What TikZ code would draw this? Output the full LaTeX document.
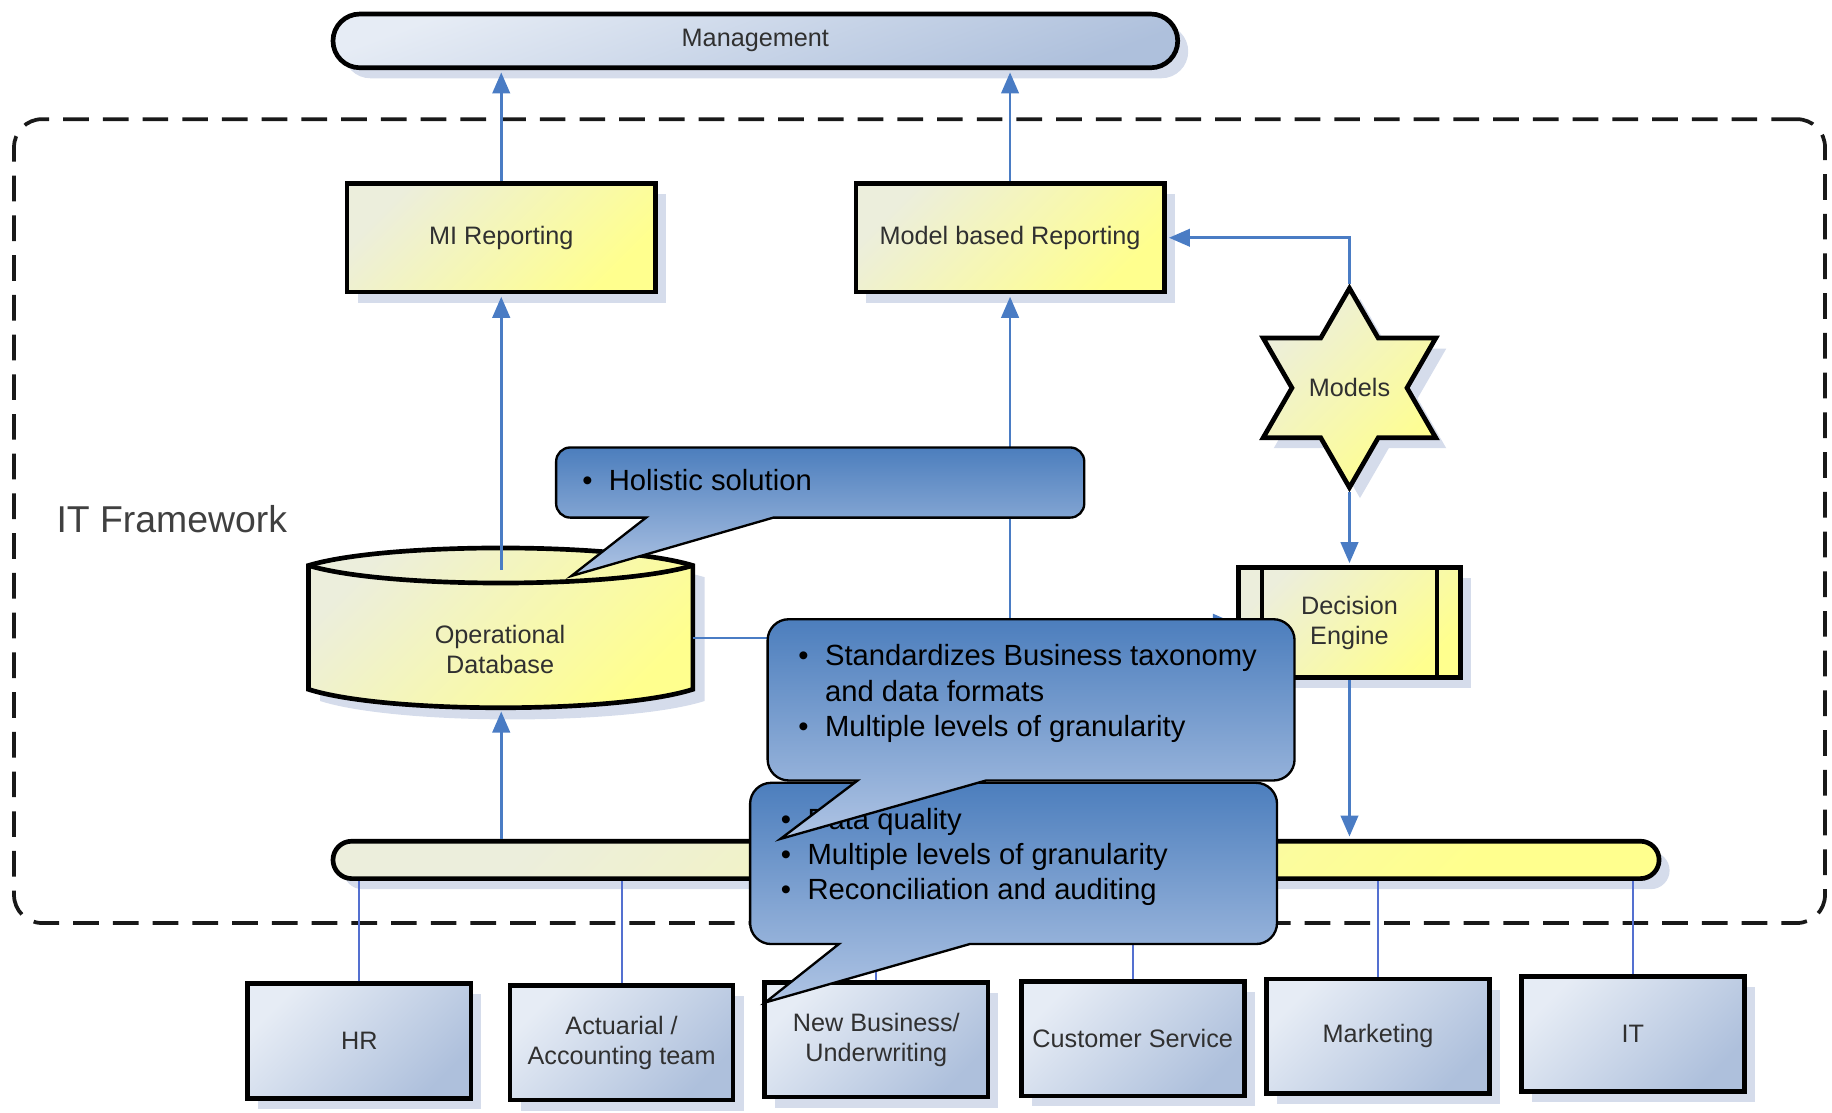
\documentclass[tikz,border=0pt]{standalone}
\usepackage{fontspec}
\setmainfont{Liberation Sans}
\usetikzlibrary{shapes.geometric,shapes.misc,arrows.meta,shadows,calc}
\definecolor{connc}{HTML}{4A7CC4}
\definecolor{deptline}{HTML}{5470D0}
\definecolor{ylL}{HTML}{ECEEDC}
\definecolor{ylM}{HTML}{FAFA9C}
\definecolor{ylR}{HTML}{FFFF8E}
\definecolor{blL}{HTML}{E6ECF5}
\definecolor{blM}{HTML}{C6D3E7}
\definecolor{blR}{HTML}{AEC0DC}
\definecolor{shadowc}{HTML}{D5DCEB}
\definecolor{calT}{HTML}{4C7EBD}
\definecolor{calB}{HTML}{AFC4E4}
\definecolor{txt}{HTML}{303030}
\definecolor{itfw}{HTML}{404040}
\tikzset{
  shapefont/.style={font=\fontsize{10.8}{13}\selectfont, text=txt},
  shad/.style={drop shadow={shadow xshift=4.5pt, shadow yshift=-4.5pt, fill=shadowc, opacity=1}},
  yshade/.style={left color=ylL, middle color=ylM, right color=ylR, shading angle=45},
  bshade/.style={left color=blL, middle color=blM, right color=blR, shading angle=45},
  ybox/.style={rectangle, draw=black, line width=2pt, shad, yshade, shapefont, align=center, inner sep=0pt},
  bbox/.style={rectangle, draw=black, line width=2pt, shad, bshade, shapefont, align=center, inner sep=0pt, minimum width=95.5pt, minimum height=49pt},
  connarrow/.style={draw=connc, line width=1.1pt, -{Triangle[length=9pt,width=7.5pt]}, shorten >=1pt},
  dline/.style={draw=deptline, line width=0.8pt},
  callout/.style={draw=black, line width=1pt, top color=calT, bottom color=calB},
  calltext/.style={font=\fontsize{12.5}{15}\selectfont, text=black, anchor=base west, inner sep=0pt},
}
\begin{document}
\begin{tikzpicture}[x=0.5pt, y=-0.5pt]
\useasboundingbox (0,0) rectangle (1568,952);

% dashed IT framework frame
\node[draw=black!90, line width=1.6pt, dash pattern=on 11pt off 6pt, rounded corners=12pt,
      minimum width=775pt, minimum height=344pt, inner sep=0pt] (frame) at (787,446) {};
\node[font=\fontsize{16}{19}\selectfont, text=itfw, anchor=west, inner sep=0pt] (itfw) at (48,444) {IT Framework};

% management
\node[ybox, rounded rectangle, bshade, shading angle=20,
      minimum width=361.5pt, minimum height=23pt] (mgmt) at (646.5,35) {Management};

% reporting boxes
\node[ybox, minimum width=132pt, minimum height=46.5pt] (mi) at (429,203.5) {MI Reporting};
\node[ybox, minimum width=132pt, minimum height=46.5pt] (mbr) at (864.5,203.5) {Model based Reporting};

% models star
\node[star, star points=6, star point ratio=1.732, minimum size=83pt, draw=black, line width=2pt,
      shad, yshade, shapefont, inner sep=0pt] (models) at (1155,332) {Models};

% decision engine
\node[ybox, minimum width=95pt, minimum height=47pt] (de) at (1155,533) {Decision\\Engine};
\draw[line width=2pt] ([xshift=11pt]de.north west) -- ([xshift=11pt]de.south west);
\draw[line width=2pt] ([xshift=-11pt]de.north east) -- ([xshift=-11pt]de.south east);

% operational database
\fill[shadowc, shift={(10,10)}] (264,484) .. controls (330,464) and (527,464) .. (593,484) -- (593,590)
   .. controls (527,611) and (330,611) .. (264,590) -- cycle;
\draw[line width=2pt, yshade]
   (264,484) .. controls (330,464) and (527,464) .. (593,484) -- (593,590)
   .. controls (527,611) and (330,611) .. (264,590) -- cycle;
\draw[line width=2pt] (264,484) .. controls (330,504) and (527,504) .. (593,484);
\node[shapefont, align=center, inner sep=0pt] (db) at (428,556) {Operational\\Database};
\coordinate (dbtop) at (429,488);
\coordinate (dbbot) at (429,607);
\coordinate (dbright) at (593,546);

% bottom bar
\node[ybox, rounded rectangle, minimum width=567.5pt, minimum height=16pt] (bar) at (852.5,736) {};

% departments
\node[bbox] (hr) at (307.5,891) {HR};
\node[bbox] (act) at (532,892.5) {Actuarial /\\Accounting team};
\node[bbox] (nb) at (750,890) {New Business/\\Underwriting};
\node[bbox] (cs) at (969.5,889) {Customer Service};
\node[bbox] (mkt) at (1179.5,887) {Marketing};
\node[bbox] (it) at (1397.5,885) {IT};

% department lines
\foreach \d in {hr,act,nb,cs,mkt,it}
  \draw[dline] (\d.north) -- (\d.north |- bar.south);

% connectors
\draw[connarrow] (mi.north) -- (mi.north |- mgmt.south);
\draw[connarrow] (mbr.north) -- (mbr.north |- mgmt.south);
\draw[connarrow] (dbtop) -- (dbtop |- mi.south);
\draw[connarrow] (bar.north -| dbbot) -- (dbbot);
\draw[connarrow] (dbright) -| (mbr.south);
\draw[connarrow] (dbright) -- (1000,546) |- (de.west);
\draw[connarrow] (models.north) |- (mbr.east);
\draw[connarrow] (models.south) -- (de.north);
\draw[connarrow] (de.south) -- (de.south |- bar.north);

% callout 1
\draw[callout] (553,443) -- (489,493) -- (662,443) -- (916,443)
  .. controls (922.6,443) and (928,437.6) .. (928,431) -- (928,395)
  .. controls (928,388.4) and (922.6,383) .. (916,383) -- (488,383)
  .. controls (481.4,383) and (476,388.4) .. (476,395) -- (476,431)
  .. controls (476,437.6) and (481.4,443) .. (488,443) -- cycle;
\node[calltext] (t1) at (498,420) {\begin{tabular}[t]{@{}l@{\hspace{7pt}}l@{}}\textbullet & Holistic solution\end{tabular}};

% callout 3
\draw[callout] (718,808) -- (655,858) -- (830,808) -- (1075,808)
  .. controls (1084.9,808) and (1093,799.9) .. (1093,790) -- (1093,688)
  .. controls (1093,678.1) and (1084.9,670) .. (1075,670) -- (660,670)
  .. controls (650.1,670) and (642,678.1) .. (642,688) -- (642,790)
  .. controls (642,799.9) and (650.1,808) .. (660,808) -- cycle;
\node[calltext] (t3) at (668,710) {\begin{tabular}[t]{@{}l@{\hspace{7pt}}l@{}}\textbullet & Data quality\\
  \textbullet & Multiple levels of granularity\\
  \textbullet & Reconciliation and auditing\end{tabular}};

% callout 2
\draw[callout] (734,668) -- (668,718) -- (844,668) -- (1090,668)
  .. controls (1099.9,668) and (1108,659.9) .. (1108,650) -- (1108,548)
  .. controls (1108,538.1) and (1099.9,530) .. (1090,530) -- (675,530)
  .. controls (665.1,530) and (657,538.1) .. (657,548) -- (657,650)
  .. controls (657,659.9) and (665.1,668) .. (675,668) -- cycle;
\node[calltext] (t2) at (683,570) {\begin{tabular}[t]{@{}l@{\hspace{7pt}}l@{}}\textbullet & Standardizes Business taxonomy\\
  & and data formats\\
  \textbullet & Multiple levels of granularity\end{tabular}};
\end{tikzpicture}
\end{document}
